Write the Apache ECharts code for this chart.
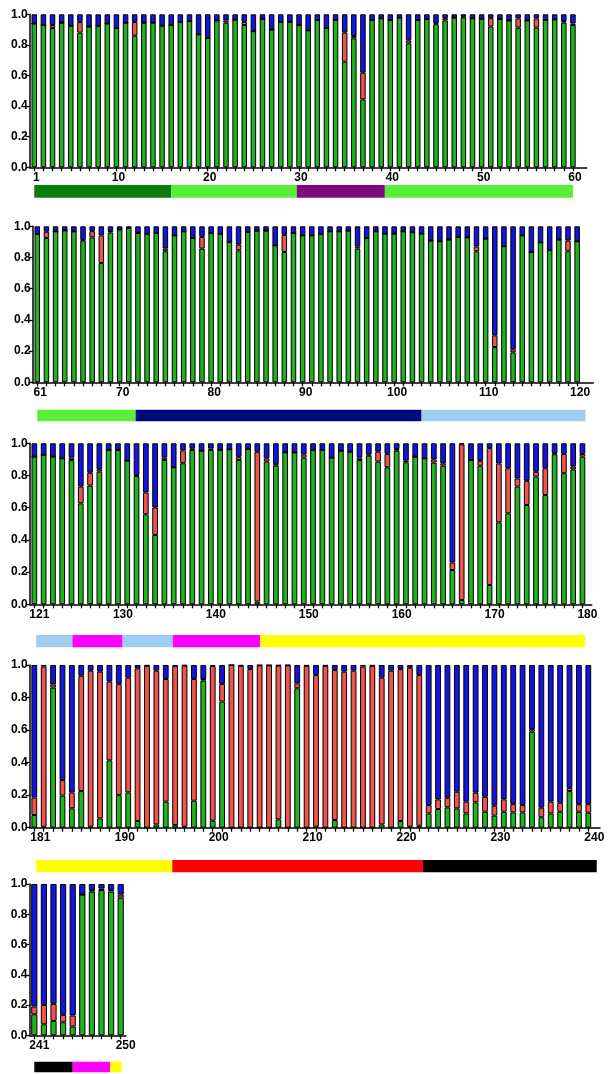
<!DOCTYPE html>
<html><head><meta charset="utf-8">
<script src="https://cdn.jsdelivr.net/npm/echarts@6/dist/echarts.min.js"></script>
<style>html,body{margin:0;padding:0;background:#fff}#c{width:608px;height:1074px}</style>
</head><body><div id="c"></div>
<script>
// Membership proportions per individual (1..250): cluster G (green), R (red), B (blue)
const green = [
 .94,.93,.91,.945,.925,.88,.92,.925,.94,.91, .945,.86,.945,.945,.925,.93,.95,.955,.87,.845,
 .96,.945,.965,.93,.89,.97,.90,.95,.95,.93, .895,.963,.91,.963,.69,.843,.444,.963,.974,.963,
 .978,.81,.963,.97,.935,.96,.978,.98,.974,.97, .92,.97,.96,.913,.96,.913,.963,.967,.946,.93,
 .951,.925,.968,.974,.968,.908,.929,.765,.96,.979, .989,.957,.951,.957,.84,.942,.968,.925,.857,.957,
 .951,.90,.846,.964,.972,.972,.878,.835,.957,.942, .942,.951,.968,.968,.972,.857,.925,.968,.953,.953,
 .968,.962,.953,.908,.904,.915,.932,.929,.84,.921, .226,.872,.192,.942,.835,.897,.848,.915,.84,.904,
 .917,.928,.917,.907,.896,.627,.737,.824,.959,.959, .892,.797,.559,.431,.896,.851,.876,.959,.954,.959,
 .959,.963,.896,.965,.017,.886,.861,.944,.944,.911, .959,.959,.911,.954,.948,.896,.923,.886,.851,.954,
 .882,.917,.907,.88,.861,.213,.027,.896,.861,.12, .509,.565,.731,.617,.793,.679,.932,.814,.838,.917,
 .078,.006,.861,.197,.119,.225,.006,.057,.414,.20, .217,.041,0,.02,.16,.016,.006,.166,.904,.043,
 .775,0,0,0,0,0,.051,0,.857,0, .006,0,.047,0,0,0,0,.02,0,.041,
 .006,.012,.088,.115,.125,.119,.088,.156,.098,.074, .098,.094,.094,.59,.064,.088,.098,.225,.098,.092,
 .139,.073,.095,.086,.058,.93,.95,.96,.95,.91
];
const red = [
 0,0,.02,0,0,.07,0,0,0,0, 0,.09,0,0,0,0,0,0,0,0,
 0,.015,0,.02,0,0,0,0,0,0, 0,0,0,0,.19,.015,.174,0,0,0,
 0,.02,0,0,.007,.015,0,.005,0,0, .055,0,0,.06,0,.06,0,0,.01,.01,
 0,.04,0,0,0,.005,.04,.177,.01,0, 0,0,0,0,.017,0,0,0,.075,0,
 0,0,.036,0,0,0,0,.11,0,0, 0,0,0,0,0,.013,0,0,0,0,
 0,0,0,0,0,0,0,0,.03,0, .075,0,.02,0,0,0,0,0,.068,0,
 0,0,0,0,.015,.104,.08,.015,0,0, 0,.006,.135,.17,.015,0,.08,.01,0,.008,
 0,0,.02,0,.93,.02,.01,0,0,.02, 0,0,0,0,0,.015,.008,.062,.083,.01,
 .01,0,0,.02,.015,.046,.967,0,.03,.85, .366,.28,.05,.15,.03,.166,.006,.12,.017,.017,
 .107,.984,.02,.096,.098,.709,.959,.902,.484,.682, .705,.939,.995,.945,.754,.978,.99,.748,.01,.951,
 .109,1,.995,.975,.998,.998,.945,.998,.03,.995, .932,.995,.922,.959,.965,.99,.995,.902,.965,.934,
 .977,.926,.051,.059,.059,.102,.072,.059,.092,.061, .076,.051,.045,.016,.059,.072,.055,.02,.047,.053,
 .051,.128,.113,.049,.073,0,.01,.01,.01,.02
];
const blue = [
 .06,.07,.07,.055,.075,.05,.08,.075,.06,.09, .055,.05,.055,.055,.075,.07,.05,.045,.13,.155,
 .04,.04,.035,.05,.11,.03,.10,.05,.05,.07, .105,.037,.09,.037,.12,.142,.382,.037,.026,.037,
 .022,.17,.037,.03,.058,.025,.022,.015,.026,.03, .025,.03,.04,.027,.04,.027,.037,.033,.044,.06,
 .049,.035,.032,.026,.032,.087,.031,.058,.03,.021, .011,.043,.049,.043,.143,.058,.032,.075,.068,.043,
 .049,.10,.118,.036,.028,.028,.122,.055,.043,.058, .058,.049,.032,.032,.028,.13,.075,.032,.047,.047,
 .032,.038,.047,.092,.096,.085,.068,.071,.13,.079, .699,.128,.788,.058,.165,.103,.152,.085,.092,.096,
 .083,.072,.083,.093,.089,.269,.183,.161,.041,.041, .108,.197,.306,.399,.089,.149,.044,.031,.046,.033,
 .041,.037,.084,.035,.053,.094,.129,.056,.056,.069, .041,.041,.089,.046,.052,.089,.069,.052,.066,.036,
 .108,.083,.093,.10,.124,.741,.006,.104,.109,.03, .125,.155,.219,.233,.177,.155,.062,.066,.145,.066,
 .815,.01,.119,.707,.783,.066,.035,.041,.102,.118, .078,.02,.005,.035,.086,.006,.004,.086,.086,.006,
 .116,0,.005,.025,.002,.002,.004,.002,.113,.005, .062,.005,.031,.041,.035,.01,.005,.078,.035,.025,
 .017,.062,.861,.826,.816,.779,.84,.785,.81,.865, .826,.855,.861,.394,.877,.84,.847,.755,.855,.855,
 .81,.799,.792,.865,.869,.07,.04,.03,.04,.07
];
// Panels (individual ranges) and tick labels
const panelFirst = [1, 61, 121, 181, 241];
const panelLast  = [60, 120, 180, 240, 250];
const xTickLabels = [
 [1,10,20,30,40,50,60],
 [61,70,80,90,100,110,120],
 [121,130,140,150,160,170,180],
 [181,190,200,210,220,230,240],
 [241,250]
];
// Population colour strip (in individual units)
const popFrom  = [1, 16, 29.75, 39.4,   61, 71.75, 103,   121.2, 125.1, 130.5, 135.9, 145.3,   181.2, 195.7, 222.4,   241, 245, 248.9];
const popTo    = [16, 29.75, 39.4, 60,  71.75, 103, 120.9, 125.1, 130.5, 135.9, 145.3, 180.3,  195.7, 222.4, 240.9,   245, 248.9, 250.1];
const popColor = ['#0b7d0b','#58ef38','#7d0a7d','#58ef38', '#58ef38','#000a7a','#9fcdf2',
  '#9fcdf2','#ff00ff','#9fcdf2','#ff00ff','#ffff00', '#ffff00','#ff0000','#000000', '#000000','#ff00ff','#ffff00'];
const popPanel = [0,0,0,0, 1,1,1, 2,2,2,2,2, 3,3,3, 4,4,4];

const clusterColors = ['#21b121', '#f0534c', '#1414e0'];

// Layout (pixels) for each panel
const layout = [
 {left:29.7, top:14.3,  width:547.8, lineW:557,   height:153,   barW:5.5, popTop:185,    popH:12.7, shift:4},
 {left:32.7, top:226.3, width:549,   lineW:560.6, height:156,   barW:5.5, popTop:409.7,  popH:11.6, shift:6},
 {left:29.7, top:443.3, width:557.4, lineW:562,   height:161,   barW:5.7, popTop:635,    popH:12.3, shift:10},
 {left:29.6, top:665,   width:563.4, lineW:570.4, height:162.7, barW:5.8, popTop:860,    popH:12.3, shift:12},
 {left:29.5, top:884,   width:96,    lineW:96.5,  height:151.3, barW:6.2, popTop:1061.7, popH:10.6, shift:10}
];

const font = 'Liberation Sans, Arial, sans-serif';
const grid = [], xAxis = [], yAxis = [], series = [];
layout.forEach((L, k) => {
  const first = panelFirst[k], last = panelLast[k];
  const ids = [];
  for (let i = first; i <= last; i++) ids.push(String(i));
  const labelSet = new Set(xTickLabels[k].map(String));
  const g0 = grid.length;
  // main grid (bars)
  grid.push({left: L.left, top: L.top, width: L.width, height: L.height});
  xAxis.push({
    type: 'category', gridIndex: g0, data: ids, boundaryGap: true,
    axisLine: {show: false},
    axisTick: {show: true, interval: 0, alignWithLabel: true, length: 4, lineStyle: {color: '#000', width: 1.3}},
    axisLabel: {interval: (i, v) => labelSet.has(v), color: '#000', fontFamily: font, fontWeight: 'bold',
                fontSize: 12, margin: 4, padding: [0, 0, 0, L.shift]},
    splitLine: {show: false}
  });
  yAxis.push({
    type: 'value', gridIndex: g0, min: 0, max: 1, interval: 0.2,
    axisLine: {show: true, lineStyle: {color: '#000', width: 1.5}},
    axisTick: {show: true, length: 4, lineStyle: {color: '#000', width: 1.3}},
    axisLabel: {color: '#000', fontFamily: font, fontWeight: 'bold', fontSize: 12, margin: 2,
                formatter: v => v.toFixed(1)},
    splitLine: {show: false}
  });
  // baseline grid (x axis line runs a little past the last bar)
  grid.push({left: L.left, top: L.top, width: L.lineW, height: L.height});
  xAxis.push({type: 'value', gridIndex: g0+1, min: 0, max: 1,
    axisLine: {show: true, onZero: false, lineStyle: {color: '#000', width: 1.5}},
    axisTick: {show: false}, axisLabel: {show: false}, splitLine: {show: false}});
  yAxis.push({type: 'value', gridIndex: g0+1, min: 0, max: 1, show: false});
  // population grid
  grid.push({left: L.left, top: L.popTop, width: L.width, height: L.popH});
  xAxis.push({type: 'value', gridIndex: g0+2, min: first - 0.5, max: last + 0.5, show: false});
  yAxis.push({type: 'value', gridIndex: g0+2, min: 0, max: 1, show: false});

  [green, red, blue].forEach((arr, c) => {
    series.push({
      type: 'bar', name: 'K' + (c+1), stack: 'p' + k,
      xAxisIndex: g0, yAxisIndex: g0,
      barWidth: L.barW,
      itemStyle: {color: clusterColors[c], borderColor: '#000', borderWidth: 1},
      data: arr.slice(first - 1, last)
    });
  });

  const popData = [];
  popPanel.forEach((p, j) => {
    if (p === k) popData.push({value: [popFrom[j], popTo[j]], itemStyle: {color: popColor[j]}});
  });
  series.push({
    type: 'custom', xAxisIndex: g0+2, yAxisIndex: g0+2,
    encode: {x: [0, 1]}, clip: false,
    renderItem: (params, api) => {
      const a = api.coord([api.value(0), 1]);
      const b = api.coord([api.value(1), 0]);
      return {type: 'rect', shape: {x: a[0], y: a[1], width: b[0]-a[0], height: b[1]-a[1]},
              style: {fill: api.visual('color')}};
    },
    data: popData
  });
});

const chart = echarts.init(document.getElementById('c'), null, {renderer: 'canvas'});
chart.setOption({backgroundColor: '#fff', animation: false, grid, xAxis, yAxis, series});
</script>
</body></html>
